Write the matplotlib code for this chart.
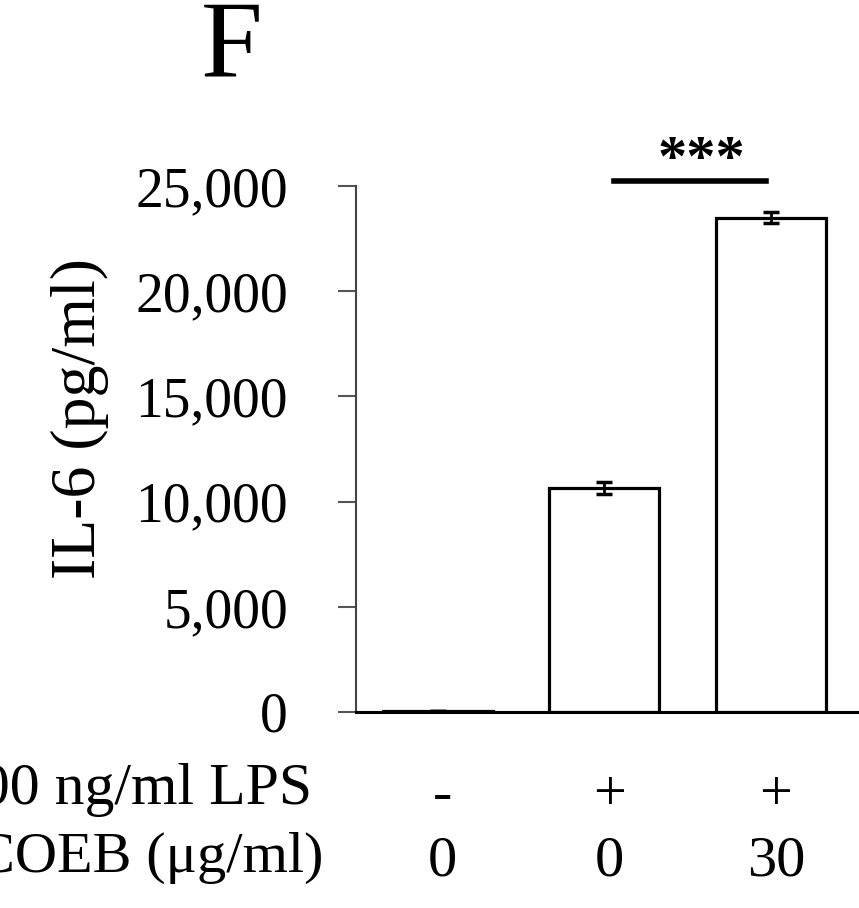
import numpy as np
import matplotlib.pyplot as plt

plt.rcParams['font.family'] = ['Liberation Serif', 'DejaVu Serif']

lps = ['-', '+', '+']
coeb = ['0', '0', '30']
il6 = [40, 10650, 23500]
il6_err = [0, 280, 250]
yticks = [0, 5000, 10000, 15000, 20000, 25000]

W, H = 859, 908
fig = plt.figure(figsize=(W/100, H/100), dpi=100)
# axes extends past the right edge, the original figure is cropped
ax = fig.add_axes([356/W, 196/H, 530/W, 526/H])

x = np.arange(len(il6))
ax.bar(x, il6, width=0.66, color='white', edgecolor='black', linewidth=2.3,
       yerr=il6_err, error_kw=dict(ecolor='black', elinewidth=2, capsize=5.5, capthick=2.5))

ax.set_xlim(-0.49, 2.69)
ax.set_ylim(0, 25000)
ax.set_yticks(yticks)
ax.set_yticklabels([f'{v:,}' for v in yticks])
ax.set_xticks([])
ax.tick_params(axis='y', length=13, width=1.5, color='#555555', pad=36, labelsize=40)
for s in ['top', 'right']:
    ax.spines[s].set_visible(False)
ax.spines['left'].set_linewidth(1.5)
ax.spines['left'].set_color('#444444')
ax.spines['bottom'].set_linewidth(2.2)

fig.text(80/W, 1 - 419/H, 'IL-6 (pg/ml)', rotation=90, ha='center', va='center', fontsize=46)

# significance bar
ax.plot([1.06, 1.97], [25260, 25260], color='black', lw=4, clip_on=False)
ax.text(1.58, 24950, '***', ha='center', va='bottom', fontsize=42, fontweight='bold', clip_on=False)

fig.text(232/W, 1 - 77/H, 'F', ha='center', va='baseline', fontsize=80)

# condition rows under the bars
tr = ax.get_xaxis_transform()
for i in range(len(x)):
    ax.text(x[i] + 0.03, -0.16, lps[i], transform=tr, ha='center', va='center', fontsize=42)
    ax.text(x[i] + 0.03, -0.285, coeb[i], transform=tr, ha='center', va='center', fontsize=42)
fig.text(312/W, 1 - 790/H, '100 ng/ml LPS', ha='right', va='center', fontsize=43)
fig.text(323/W, 1 - 858/H, 'COEB (μg/ml)', ha='right', va='center', fontsize=42)

fig.savefig('out.png', dpi=100)
